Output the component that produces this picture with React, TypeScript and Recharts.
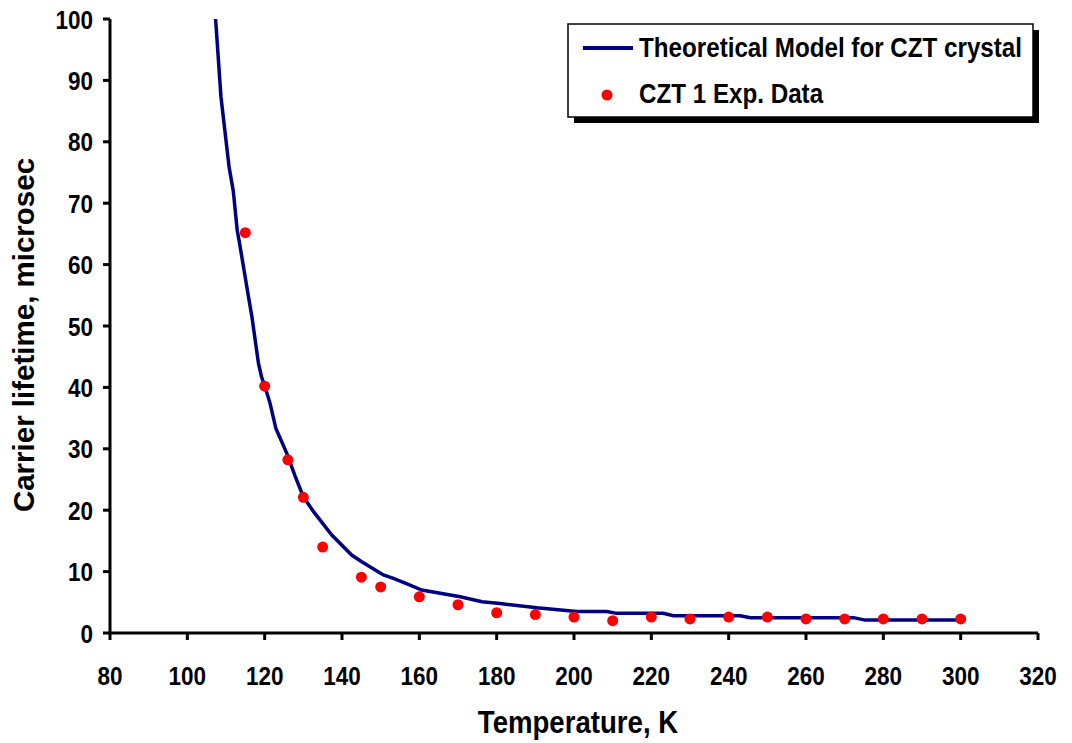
import { LineChart, Line, XAxis, YAxis } from 'recharts'

// theoretical model curve
const modelT = [
  107.2, 108.7, 110.8, 111.9, 112.9, 113.5, 115.8, 116.7, 118.4, 119.2, 120.1, 121.4, 122.9,
  125.7, 127.9, 130, 132.6, 137.3, 142.5, 145.1, 150.7, 153.3, 157.6, 160.6, 170.6, 176.2,
  180.9, 190.4, 200.7, 208.5, 211, 223.1, 225.7, 243, 245.6, 272.3, 275.3, 300
]
const modelV = [
  101, 87.3, 75.9, 71.9, 65.6, 63.5, 54.8, 51.5, 43.9, 41.7, 40.1, 37.4, 33.3,
  29.3, 25.5, 22.2, 19.8, 16, 12.7, 11.6, 9.45, 8.9, 7.8, 7.0, 5.9, 5.1,
  4.8, 4.1, 3.5, 3.5, 3.2, 3.2, 2.8, 2.8, 2.5, 2.5, 2.1, 2.1
]

// CZT 1 experimental points
const expT = [115, 120, 126, 130, 135, 145, 150, 160, 170, 180, 190, 200, 210, 220, 230, 240, 250, 260, 270, 280, 290, 300]
const expV = [65.2, 40.2, 28.2, 22.1, 14.0, 9.1, 7.5, 5.9, 4.6, 3.3, 3.0, 2.6, 2.0, 2.6, 2.3, 2.6, 2.6, 2.3, 2.3, 2.3, 2.3, 2.3]

const xTicks = [80, 100, 120, 140, 160, 180, 200, 220, 240, 260, 280, 300, 320]
const yTicks = [0, 10, 20, 30, 40, 50, 60, 70, 80, 90, 100]

const modelLabel = 'Theoretical Model for CZT crystal'
const expLabel = 'CZT 1 Exp. Data'

const modelData = modelT.map((t, i) => ({ t, v: modelV[i] }))
const expData = expT.map((t, i) => ({ t, v: expV[i] }))

const FONT = '"Liberation Sans", Arial, sans-serif'
const NAVY = '#000080'
const RED = '#ff0000'
// the original picture is stretched a little vertically
const STRETCH = 1.18

function XTick(props: any) {
  const { x, y, payload } = props
  return (
    <text
      transform={`translate(${x} ${y + 45}) scale(1 ${STRETCH})`}
      textAnchor="middle"
      fontFamily={FONT}
      fontWeight={700}
      fontSize={22.5}
      fill="#000"
    >
      {payload.value}
    </text>
  )
}

function YTick(props: any) {
  const { x, y, payload } = props
  return (
    <text
      transform={`translate(${x - 10} ${y + 9.5}) scale(1 ${STRETCH})`}
      textAnchor="end"
      fontFamily={FONT}
      fontWeight={700}
      fontSize={22.5}
      fill="#000"
    >
      {payload.value}
    </text>
  )
}

function XTitle(props: any) {
  const vb = props.viewBox
  return (
    <text
      transform={`translate(${vb.x + vb.width / 2 + 4} 733) scale(1 1.13)`}
      textAnchor="middle"
      fontFamily={FONT}
      fontWeight={700}
      fontSize={27.6}
      fill="#000"
    >
      Temperature, K
    </text>
  )
}

function YTitle() {
  return (
    <text
      transform="translate(34 335) rotate(-90)"
      textAnchor="middle"
      fontFamily={FONT}
      fontWeight={700}
      fontSize={29.5}
      fill="#000"
    >
      Carrier lifetime, microsec
    </text>
  )
}

function LegendBox() {
  return (
    <svg
      width={480}
      height={105}
      style={{ position: 'absolute', left: 566, top: 22 }}
    >
      <g transform="translate(2 2)">
        <rect x={6} y={6} width={465} height={93} fill="#000" />
        <rect x={0} y={0} width={465} height={93} fill="#fff" stroke="#000" strokeWidth={1.5} />
        <line x1={15} y1={24} x2={65} y2={24} stroke={NAVY} strokeWidth={4} />
        <text
          transform={`translate(71 33) scale(1 ${STRETCH})`}
          fontFamily={FONT}
          fontWeight={700}
          fontSize={24.2}
          fill="#000"
        >
          {modelLabel}
        </text>
        <circle cx={39} cy={71} r={5.5} fill={RED} />
        <text
          transform={`translate(71 79) scale(1 ${STRETCH})`}
          fontFamily={FONT}
          fontWeight={700}
          fontSize={24.2}
          fill="#000"
        >
          {expLabel}
        </text>
      </g>
    </svg>
  )
}

export default function App() {
  return (
    <div style={{ position: 'absolute', left: 0, top: 0, width: 1072, height: 743, background: '#fff' }}>
      <LineChart
        width={1072}
        height={743}
        margin={{ top: 19, right: 34, left: 0, bottom: 0 }}
      >
        <XAxis
          type="number"
          dataKey="t"
          domain={[80, 320]}
          ticks={xTicks}
          interval={0}
          height={110}
          axisLine={{ stroke: '#000', strokeWidth: 3 }}
          tickLine={{ stroke: '#000', strokeWidth: 3 }}
          tickSize={7}
          tickMargin={0}
          tick={XTick}
          label={{ content: XTitle }}
        />
        <YAxis
          type="number"
          dataKey="v"
          domain={[0, 100]}
          ticks={yTicks}
          interval={0}
          allowDataOverflow
          width={110}
          axisLine={{ stroke: '#000', strokeWidth: 3 }}
          tickLine={{ stroke: '#000', strokeWidth: 3 }}
          tickSize={7}
          tickMargin={0}
          tick={YTick}
          label={{ content: YTitle }}
        />
        <Line
          data={modelData}
          dataKey="v"
          type="linear"
          stroke={NAVY}
          strokeWidth={3.5}
          dot={false}
          activeDot={false}
          isAnimationActive={false}
        />
        <Line
          data={expData}
          dataKey="v"
          type="linear"
          stroke="none"
          dot={{ r: 5.5, fill: RED, stroke: 'none' }}
          activeDot={false}
          isAnimationActive={false}
        />
      </LineChart>
      <LegendBox />
    </div>
  )
}
